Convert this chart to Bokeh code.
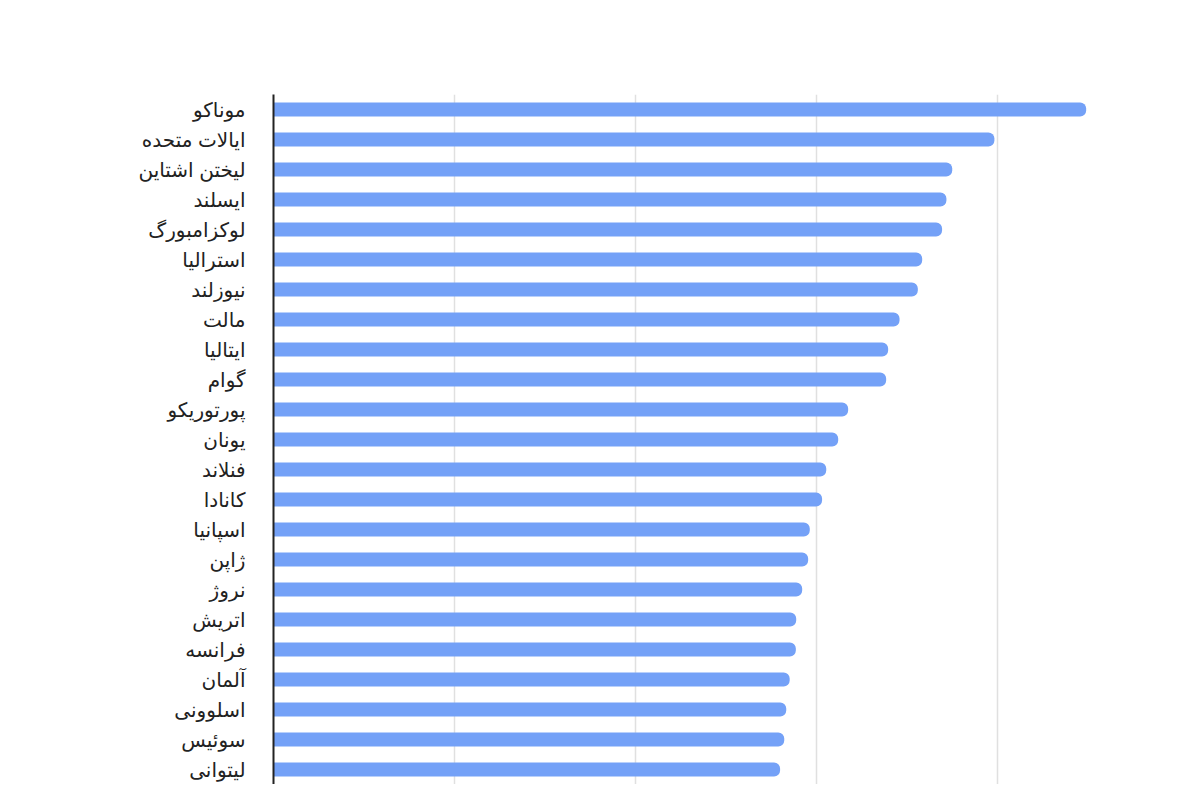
from bokeh.plotting import figure
from bokeh.models import FactorRange, Range1d, ColumnDataSource, SingleIntervalTicker
from bokeh.embed import file_html
from bokeh.resources import INLINE

countries = ["موناکو", "ایالات متحده", "لیختن اشتاین", "ایسلند", "لوکزامبورگ",
             "استرالیا", "نیوزلند", "مالت", "ایتالیا", "گوام", "پورتوریکو",
             "یونان", "فنلاند", "کانادا", "اسپانیا", "ژاپن", "نروژ", "اتریش",
             "فرانسه", "آلمان", "اسلوونی", "سوئیس", "لیتوانی"]
values = [44.90, 39.83, 37.50, 37.18, 36.94, 35.84, 35.60, 34.59, 33.96, 33.85,
          31.75, 31.20, 30.54, 30.31, 29.63, 29.54, 29.21, 28.88, 28.86, 28.52,
          28.33, 28.22, 27.99]

src = ColumnDataSource(dict(country=countries, value=values))

p = figure(width=1192, height=784, output_backend="svg", toolbar_location=None,
           y_range=FactorRange(factors=list(reversed(countries)), range_padding=0),
           x_range=Range1d(0, 49.56),
           min_border_left=273, min_border_top=94, min_border_bottom=0,
           min_border_right=22)

p.hbar(y="country", right="value", left=0, height=0.47, source=src,
       fill_color="#74a1f7", line_color=None, border_radius=(0, 6, 6, 0))

p.outline_line_color = None
p.xaxis.visible = False
p.xaxis.ticker = SingleIntervalTicker(interval=10)
p.xgrid.ticker = SingleIntervalTicker(interval=10)
p.xgrid.grid_line_color = "#e0e0e0"
p.xgrid.grid_line_width = 1.5
p.ygrid.grid_line_color = None

p.yaxis.axis_line_color = "#222222"
p.yaxis.axis_line_width = 2
p.yaxis.major_tick_line_color = None
p.yaxis.minor_tick_line_color = None
p.yaxis.major_label_text_font = "Arial, Liberation Sans, DejaVu Sans"
p.yaxis.major_label_text_font_size = "20px"
p.yaxis.major_label_text_color = "#222222"
p.yaxis.major_label_standoff = 22

open("out.html", "w").write(file_html(p, INLINE))
